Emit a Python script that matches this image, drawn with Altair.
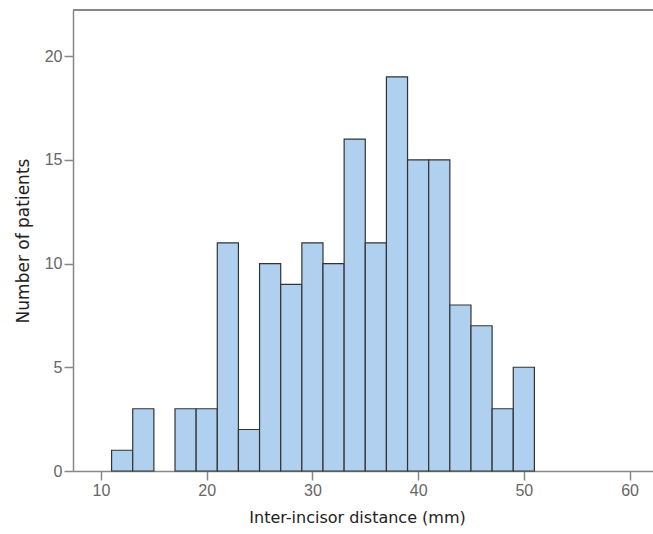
import altair as alt
import pandas as pd

bin_start = [11, 13, 15, 17, 19, 21, 23, 25, 27, 29, 31, 33, 35, 37, 39, 41, 43, 45, 47, 49]
bin_end = [13, 15, 17, 19, 21, 23, 25, 27, 29, 31, 33, 35, 37, 39, 41, 43, 45, 47, 49, 51]
counts = [1, 3, 0, 3, 3, 11, 2, 10, 9, 11, 10, 16, 11, 19, 15, 15, 8, 7, 3, 5]

x_ticks = [10, 20, 30, 40, 50, 60]
y_ticks = [0, 5, 10, 15, 20]

df = pd.DataFrame({"start": bin_start, "end": bin_end, "count": counts})
df = df[df["count"] > 0]

W, H = 580, 461

xscale = alt.Scale(domain=[7.35, 62.22], nice=False, zero=False)
yscale = alt.Scale(domain=[0, 22.22], nice=False)

bars = alt.Chart(df).mark_rect(
    fill="#afd0ef", stroke="#333333", strokeWidth=1.2
).encode(
    x=alt.X("start:Q", scale=xscale,
            axis=alt.Axis(values=x_ticks, title="Inter-incisor distance (mm)",
                          grid=False, domainColor="#888888", domainWidth=1.5,
                          tickColor="#888888", tickWidth=1.5, tickSize=9,
                          labelColor="#666666", labelFont="Liberation Sans", labelFontSize=16,
                          labelPadding=2,
                          titleFont="DejaVu Sans", titleFontSize=16, titleFontWeight="normal",
                          titleColor="#222222", titlePadding=11, titleX=284)),
    x2="end:Q",
    y=alt.Y("count:Q", scale=yscale,
            axis=alt.Axis(values=y_ticks, title="Number of patients",
                          grid=False, domainColor="#888888", domainWidth=1.5,
                          tickColor="#888888", tickWidth=1.5, tickSize=9,
                          labelColor="#666666", labelFont="Liberation Sans", labelFontSize=16,
                          labelPadding=2,
                          titleFont="DejaVu Sans", titleFontSize=17, titleFontWeight="normal",
                          titleColor="#222222", titlePadding=12)),
    y2=alt.Y2(datum=0),
)

top = alt.Chart(df).mark_rule(color="#888888", strokeWidth=1.5).encode(
    x=alt.value(0), x2=alt.value(W), y=alt.value(0)
)

chart = alt.layer(bars, top).properties(
    width=W, height=H,
    autosize=alt.AutoSizeParams(type="none"),
    padding={"left": 73, "top": 10, "right": 0, "bottom": 63},
).configure_view(strokeWidth=0).configure(background="white")

chart.save("out.html", embed_options={"renderer": "svg", "actions": False})
